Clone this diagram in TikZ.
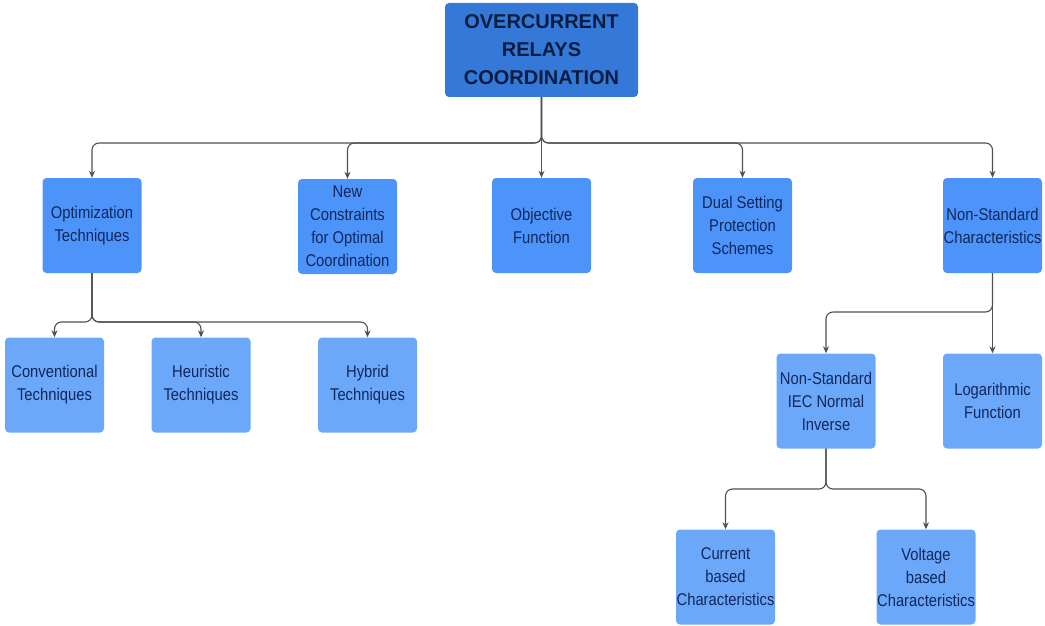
\documentclass[tikz,border=0pt]{standalone}
\usepackage{fontspec}
\setmainfont{Liberation Sans}
\newfontfamily\boxfont[FakeStretch=0.87]{Liberation Sans}
\usetikzlibrary{arrows.meta}
\definecolor{rootblue}{HTML}{3478D8}
\definecolor{midblue}{HTML}{4D94FA}
\definecolor{lightblue}{HTML}{6BA8FA}
\definecolor{navy}{HTML}{10275A}
\definecolor{rootnavy}{HTML}{0A1D40}
\definecolor{linegray}{HTML}{505050}
\tikzset{
  rootbox/.style={fill=rootblue, rounded corners=4pt, minimum width=193pt, minimum height=94pt,
    inner sep=0pt, align=center, text=rootnavy, font=\bfseries\fontsize{20}{28}\selectfont},
  catbox/.style={fill=midblue, rounded corners=4pt, minimum width=99pt, minimum height=95pt,
    inner sep=0pt, align=center, text=navy, font=\boxfont\fontsize{17}{23}\selectfont},
  subbox/.style={catbox, fill=lightblue},
  link/.style={draw=linegray, line width=1.1pt, rounded corners=7pt,
    -{Stealth[length=7pt,width=6pt]}}
}
\begin{document}
\begin{tikzpicture}[x=1pt,y=-1pt]
\useasboundingbox (0,0) rectangle (1045,626);

% root
\node[rootbox] (root) at (541.5,50) {OVERCURRENT\\RELAYS\\COORDINATION};

% first level
\node[catbox] (opt)  at (92,225.5)  {Optimization\\Techniques};
\node[catbox] (newc) at (347.5,226.5) {New\\Constraints\\for Optimal\\Coordination};
\node[catbox] (obj)  at (541.5,225.5) {Objective\\Function};
\node[catbox] (dual) at (742.5,225.5) {Dual Setting\\Protection\\Schemes};
\node[catbox] (nsc)  at (992.5,225.5) {Non-Standard\\Characteristics};

% optimization subtree
\node[subbox] (conv) at (54.5,385)  {Conventional\\Techniques};
\node[subbox] (heur) at (201,385)   {Heuristic\\Techniques};
\node[subbox] (hyb)  at (367.5,385) {Hybrid\\Techniques};

% non-standard subtree
\node[subbox] (iec) at (826,401)   {Non-Standard\\IEC Normal\\Inverse};
\node[subbox] (log) at (992.5,401) {Logarithmic\\Function};

% IEC subtree
\node[subbox] (cur) at (725.5,577) {Current\\based\\Characteristics};
\node[subbox] (vol) at (926,577)   {Voltage\\based\\Characteristics};

% connectors from the root
\foreach \c in {opt,newc,dual,nsc}
  \draw[link] (root.south) -- (root.south |- 0,143) -| (\c.north);
\draw[link] (root.south) -- (obj.north);

% connectors from optimization techniques
\foreach \c in {conv,heur,hyb}
  \draw[link] (opt.south) -- (opt.south |- 0,322) -| (\c.north);

% connectors from non-standard characteristics
\draw[link] (nsc.south) -- (nsc.south |- 0,312) -| (iec.north);
\draw[link] (nsc.south) -- (log.north);

% connectors from IEC normal inverse
\foreach \c in {cur,vol}
  \draw[link] (iec.south) -- (iec.south |- 0,489) -| (\c.north);
\end{tikzpicture}
\end{document}
